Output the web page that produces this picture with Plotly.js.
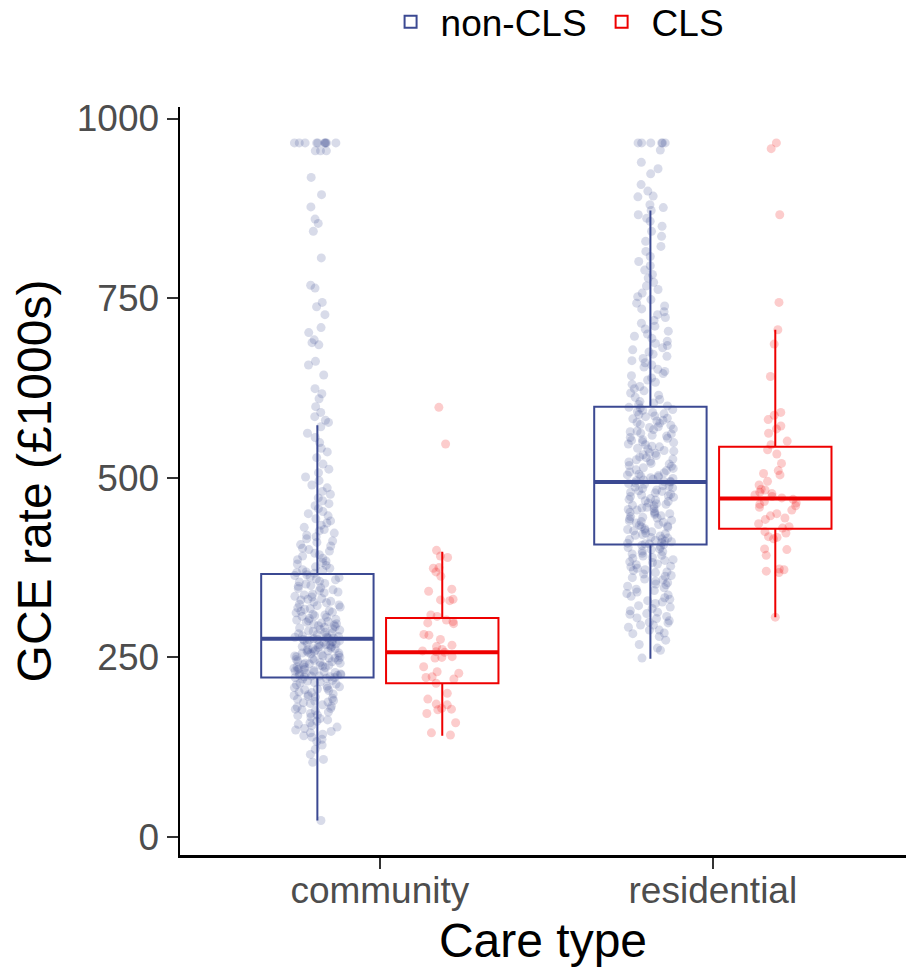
<!DOCTYPE html>
<html>
<head>
<meta charset="utf-8">
<script src="https://cdn.plot.ly/plotly-3.0.1.min.js"></script>
<style>html,body{margin:0;padding:0;background:#fff}#chart{width:907px;height:967px}</style>
</head>
<body>
<div id="chart"></div>
<script>
// ---- categories and groups ----
var careTypes = ['community', 'residential'];
var groupNames = ['non-CLS', 'CLS'];

// ---- box statistics (GCE rate, £1000s) ----
var nonClsLower = [23, 248];
var nonClsQ1 = [222, 407];
var nonClsMedian = [276, 494];
var nonClsQ3 = [366, 599];
var nonClsUpper = [573, 872];

var clsLower = [141, 306];
var clsQ1 = [214, 429];
var clsMedian = [257, 471];
var clsQ3 = [305, 543];
var clsUpper = [397, 706];

// ---- individual observations (estimated from the jittered points) ----
var communityNonCls = [
  966, 966, 966, 966, 966, 966, 966, 966, 966, 966, 955, 955, 955,
  918, 894, 877, 860, 854, 843, 806, 768, 764, 744, 738, 727, 709, 702, 692, 688, 685,
  662, 657, 643, 624, 617, 610, 599, 591, 585, 580, 577,
  571, 562, 556, 549, 541, 536, 528, 519, 512, 507, 501, 496, 490, 486, 481, 477, 472, 468, 464, 461,
  457, 453, 450, 447, 443, 440, 437, 434, 431, 428, 426, 423, 420, 418, 415, 412, 410, 407, 405, 402,
  400, 398, 395, 393, 391, 388, 386, 384, 382, 380, 378, 376, 374, 372, 371, 369, 368, 367,
  365, 364, 362, 361, 359, 358, 356, 355, 353, 352, 350, 349, 347, 346, 344, 343, 341, 340, 338, 337,
  335, 334, 332, 331, 330, 328, 327, 326, 324, 323, 322, 320, 319, 318, 317, 315, 314, 313, 312, 310,
  309, 308, 307, 306, 304, 303, 302, 301, 300, 299, 298, 297, 296, 295, 294, 293, 292, 291, 290, 289,
  288, 287, 286, 285, 284, 283, 282, 281, 280, 279, 278, 278, 277, 277, 276,
  275, 275, 274, 273, 273, 272, 271, 271, 270, 269, 268, 268, 267, 266, 265, 265, 264, 263, 262, 262,
  261, 260, 259, 259, 258, 257, 256, 256, 255, 254, 253, 252, 252, 251, 250, 249, 249, 248, 247, 246,
  246, 245, 244, 243, 242, 242, 241, 240, 239, 239, 238, 237, 236, 236, 235, 234, 233, 233, 232, 231,
  230, 230, 229, 228, 227, 227, 226, 225, 225, 224, 224, 223, 223, 222, 222,
  221, 220, 218, 217, 216, 215, 214, 213, 212, 210, 209, 208, 207, 206, 205, 204, 202, 201, 199, 198,
  197, 196, 195, 193, 192, 190, 189, 188, 187, 186, 184, 182, 181, 179, 178, 177, 176, 174, 172, 170,
  169, 167, 165, 163, 161, 159, 157, 155, 153, 151, 149, 147, 145, 143, 141, 139, 136, 133, 128, 122,
  115, 108, 104, 23
];
var residentialNonCls = [
  966, 966, 966, 966, 966, 966, 956, 939, 930, 923, 908, 899, 892, 891, 880, 876,
  872, 866, 861, 857, 850, 843, 836, 829, 822, 815, 808, 801, 795, 789, 783, 778, 772, 767, 762, 757,
  752, 748, 743, 739, 735, 731, 727, 723, 719, 715, 711, 707, 704, 700, 697, 694, 690, 687, 684, 681,
  678, 675, 672, 669, 666, 663, 660, 657, 654, 651, 648, 645, 642, 639, 636, 633, 630, 627, 624, 621,
  618, 615, 612, 609, 606, 604, 602, 600,
  598, 597, 595, 594, 592, 591, 589, 588, 586, 585, 583, 582, 580, 579, 577, 576, 574, 573, 571, 570,
  568, 567, 565, 564, 562, 561, 559, 558, 556, 555, 553, 552, 550, 549, 547, 546, 544, 543, 541, 540,
  538, 537, 535, 534, 532, 531, 529, 528, 526, 525, 523, 522, 520, 519, 517, 516, 514, 513, 511, 510,
  508, 507, 505, 504, 503, 502, 501, 500, 499, 498, 497, 496, 495, 495, 494,
  493, 492, 491, 489, 488, 487, 486, 485, 483, 482, 481, 480, 479, 477, 476, 475, 474, 473, 471, 470,
  469, 468, 467, 465, 464, 463, 462, 461, 459, 458, 457, 456, 455, 453, 452, 451, 450, 449, 447, 446,
  445, 444, 443, 441, 440, 439, 438, 437, 435, 434, 433, 432, 431, 429, 428, 427, 426, 425, 423, 422,
  421, 420, 419, 417, 416, 415, 414, 413, 412, 411, 410, 409, 408, 408, 407,
  406, 404, 403, 401, 400, 398, 397, 395, 394, 392, 391, 389, 388, 386, 385, 383, 382, 380, 379, 377,
  376, 374, 372, 371, 369, 368, 366, 364, 363, 361, 359, 358, 356, 354, 352, 351, 349, 347, 345, 343,
  341, 339, 337, 335, 333, 331, 329, 327, 325, 322, 320, 318, 315, 313, 311, 310, 307, 305, 304, 301,
  299, 298, 295, 295, 292, 288, 288, 284, 283, 279, 274, 268, 263, 260, 249
];
var communityCls = [
  598, 547, 399, 391, 389, 375, 374, 369, 363, 345, 342, 331, 330, 329, 309, 307, 302, 300, 298, 297,
  282, 281, 275, 267, 265, 261, 259, 258, 257, 251, 250, 249, 237, 230, 228, 223, 222, 220, 214, 200,
  192, 185, 184, 179, 178, 177, 172, 159, 145, 142
];
var residentialCls = [
  966, 958, 866, 744, 706, 686, 641, 591, 587, 581, 572, 568, 562, 551, 546, 539, 533, 520, 510, 506,
  504, 495, 490, 484, 483, 480, 478, 476, 474, 472, 470, 467, 465, 463, 461, 459, 455, 450, 447, 444,
  442, 436, 432, 430, 425, 423, 418, 417, 415, 401, 400, 392, 373, 372, 370, 368, 306
];

// ---- styling ----
var blue = '#3B4992';
var red = '#EE0000';
var fam = 'Liberation Sans, Arial, sans-serif';
var tickFont = {family: fam, size: 37, color: '#4D4D4D'};
var titleFont = {family: fam, size: 48, color: '#000000'};

function labelsFor(values, cat) { return values.map(function () { return cat; }); }

function pointTrace(vals0, vals1, color, grp) {
  return {
    type: 'box',
    x: labelsFor(vals0, careTypes[0]).concat(labelsFor(vals1, careTypes[1])),
    y: vals0.concat(vals1),
    boxpoints: 'all', jitter: 0.42, pointpos: 0,
    marker: {color: color, opacity: 0.2, size: 9, line: {width: 0}},
    line: {width: 0, color: 'rgba(0,0,0,0)'},
    fillcolor: 'rgba(0,0,0,0)',
    whiskerwidth: 0,
    offsetgroup: grp, legendgroup: grp,
    showlegend: false, hoverinfo: 'y'
  };
}

function statTrace(name, lo, q1, med, q3, hi, color, grp, show) {
  return {
    type: 'box', name: name, x: careTypes,
    lowerfence: lo, q1: q1, median: med, q3: q3, upperfence: hi,
    boxpoints: false, whiskerwidth: 0,
    line: {color: color, width: 2},
    fillcolor: 'rgba(255,255,255,0)',
    offsetgroup: grp, legendgroup: grp, showlegend: show
  };
}

function medianTrace(med, color, grp) {
  return {
    type: 'box', x: careTypes,
    lowerfence: med, q1: med, median: med, q3: med, upperfence: med,
    boxpoints: false, whiskerwidth: 0,
    line: {color: color, width: 4},
    fillcolor: 'rgba(255,255,255,0)',
    offsetgroup: grp, legendgroup: grp, showlegend: false, hoverinfo: 'skip'
  };
}

var data = [
  pointTrace(communityNonCls, residentialNonCls, blue, 'a'),
  pointTrace(communityCls, residentialCls, red, 'b'),
  statTrace(groupNames[0], nonClsLower, nonClsQ1, nonClsMedian, nonClsQ3, nonClsUpper, blue, 'a', true),
  statTrace(groupNames[1], clsLower, clsQ1, clsMedian, clsQ3, clsUpper, red, 'b', true),
  medianTrace(nonClsMedian, blue, 'a'),
  medianTrace(clsMedian, red, 'b')
];

var layout = {
  width: 907, height: 967,
  paper_bgcolor: '#ffffff', plot_bgcolor: '#ffffff',
  margin: {l: 180, r: 1, t: 107, b: 112, autoexpand: false},
  boxmode: 'group', boxgap: 0.25, boxgroupgap: 0.1,
  showlegend: true,
  legend: {
    orientation: 'h', xref: 'container', yref: 'container',
    x: 0.612, xanchor: 'center', y: 0.977, yanchor: 'middle',
    itemwidth: 50,
    font: {family: fam, size: 37, color: '#000000'},
    bgcolor: 'rgba(0,0,0,0)'
  },
  xaxis: {
    type: 'category', categoryorder: 'array', categoryarray: careTypes,
    range: [-0.6, 1.58], fixedrange: true,
    showline: true, linecolor: '#000000', linewidth: 2.5,
    ticks: 'outside', ticklen: 11, tickwidth: 2, tickcolor: '#333333',
    ticklabelstandoff: -10,
    tickfont: tickFont, showgrid: false, zeroline: false,
    title: {text: 'Care type', font: titleFont, standoff: 14}
  },
  yaxis: {
    range: [-25, 1016], tickvals: [0, 250, 500, 750, 1000], ticktext: ['0', '250', '500', '750', '1000'],
    showline: true, linecolor: '#000000', linewidth: 2.5,
    ticks: 'outside', ticklen: 11, tickwidth: 2, tickcolor: '#333333',
    ticklabelstandoff: 0,
    tickfont: tickFont, showgrid: false, zeroline: false,
    title: {text: 'GCE rate (£1000s)', font: titleFont, standoff: 10}
  }
};

Plotly.newPlot('chart', data, layout, {displayModeBar: false, staticPlot: true});
</script>
</body>
</html>
